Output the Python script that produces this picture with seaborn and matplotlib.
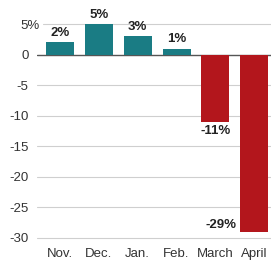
import matplotlib
matplotlib.use("Agg")
import matplotlib.pyplot as plt
import matplotlib.transforms as mtransforms
import seaborn as sns

months = ["Nov.", "Dec.", "Jan.", "Feb.", "March", "April"]
change = [2, 5, 3, 1, -11, -29]
yticks = [5, 0, -5, -10, -15, -20, -25, -30]
ytick_labels = ["5%", "0", "-5", "-10", "-15", "-20", "-25", "-30"]

TEAL = "#1a7c84"
RED = "#b3161c"

sns.set_theme(style="white")
plt.rcParams["font.family"] = ["Liberation Sans", "DejaVu Sans"]

direction = ["up" if v >= 0 else "down" for v in change]

fig = plt.figure(figsize=(2.71, 2.60), dpi=100)
ax = fig.add_axes([37 / 271, 19 / 260, 234 / 271, 223 / 260])

# grid lines first so bars sit on top
for t in yticks:
    if t == 0:
        ax.axhline(t, color="#555555", lw=1.0, zorder=0)
    elif t == yticks[0]:
        ax.axhline(t, xmin=0.026, color="#cfcfcf", lw=0.8, zorder=0)
    else:
        ax.axhline(t, color="#cfcfcf", lw=0.8, zorder=0)

sns.barplot(x=months, y=change, hue=direction, palette={"up": TEAL, "down": RED},
            width=0.72, dodge=False, legend=False, saturation=1, linewidth=0,
            ax=ax, zorder=2)

for i, v in enumerate(change):
    label = f"{v}%"
    kw = dict(fontsize=9.5, fontweight="bold", color="#222222")
    if v >= 0:
        ax.text(i, v + 0.5, label, ha="center", va="bottom", **kw)
    elif i == len(change) - 1:
        ax.text(i - 0.47, v + 0.2, label, ha="right", va="bottom", **kw)
    else:
        ax.text(i, v - 0.5, label, ha="center", va="top", **kw)

ax.set_xlim(-0.59, 5.43)
ax.set_ylim(-30.5, 6.0)
ax.set_yticks(yticks)
ax.set_yticklabels(ytick_labels)
ax.tick_params(axis="both", length=0, labelsize=9.5, colors="#333333")
ax.tick_params(axis="x", pad=5)
ax.tick_params(axis="y", pad=6)
# let the "%" of the top label hang past the digits
top_lab = ax.get_yticklabels()[0]
top_lab.set_transform(top_lab.get_transform()
                      + mtransforms.ScaledTranslation(0.11, 0, fig.dpi_scale_trans))
ax.set_xlabel("")
ax.set_ylabel("")
for s in ax.spines.values():
    s.set_visible(False)

fig.savefig("out.png", dpi=100)
